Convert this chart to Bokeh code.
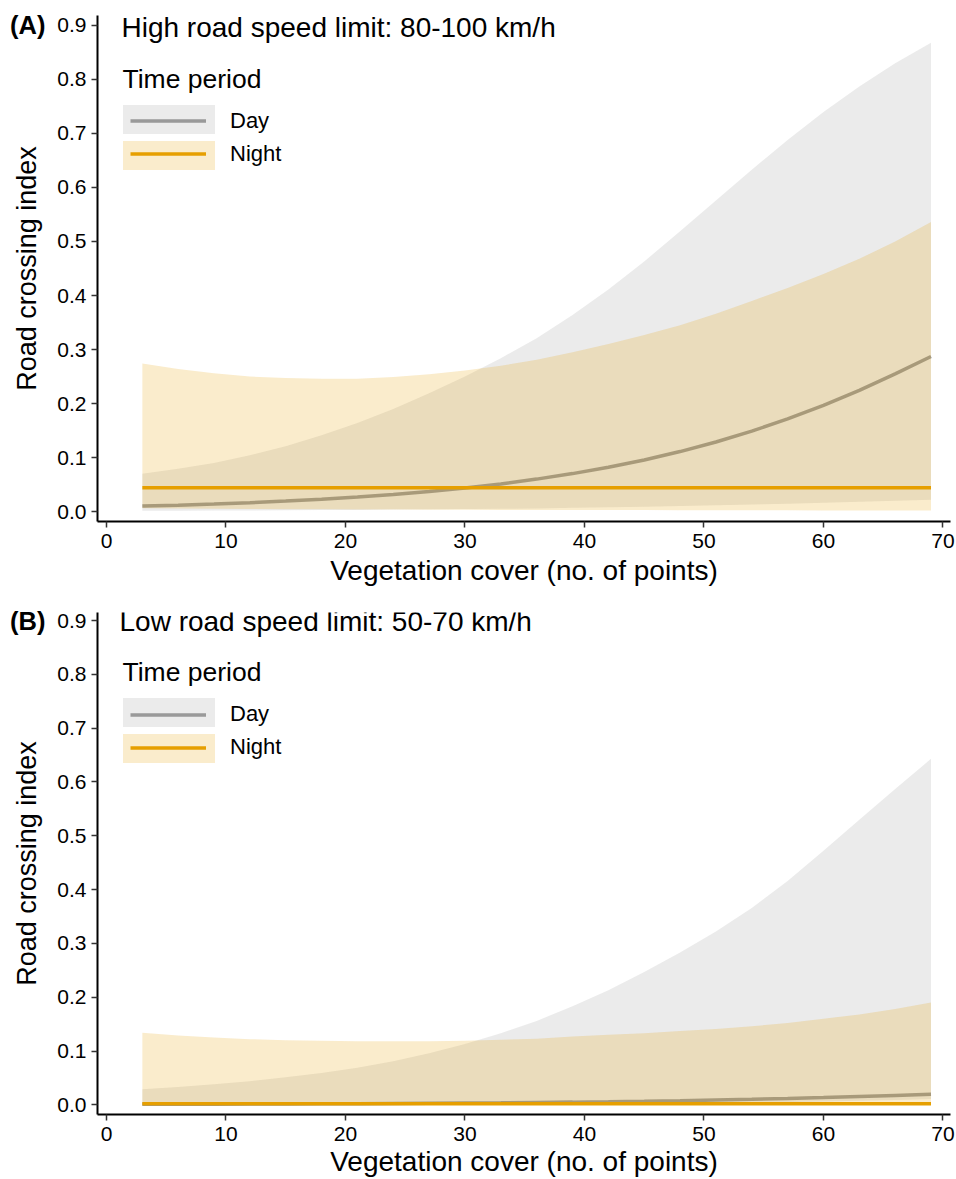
from bokeh.plotting import figure
from bokeh.models import (Range1d, FixedTicker, Label, Legend, LegendItem, NumeralTickFormatter,
                          LinearAxis)
from bokeh.layouts import column
from bokeh.embed import file_html
from bokeh.resources import INLINE

# ---------------- data ----------------
x_cover = [3, 6, 9, 12, 15, 18, 21, 24, 27, 30, 33, 36, 39, 42, 45, 48, 51, 54, 57, 60, 63, 66, 69]

# Panel A: high road speed limit (80-100 km/h)
a_day_fit = [0.0100, 0.0118, 0.0139, 0.0164, 0.0193, 0.0228, 0.0268, 0.0315, 0.0371, 0.0436, 0.0511, 0.0600,
             0.0702, 0.0820, 0.0955, 0.1110, 0.1288, 0.1488, 0.1714, 0.1965, 0.2244, 0.2550, 0.2870]
a_day_lo = [0.0013, 0.0015, 0.0017, 0.0020, 0.0023, 0.0027, 0.0030, 0.0035, 0.0040, 0.0045, 0.0050, 0.0058,
            0.0068, 0.0078, 0.0090, 0.0103, 0.0117, 0.0130, 0.0145, 0.0160, 0.0180, 0.0198, 0.0220]
a_day_hi = [0.070, 0.079, 0.090, 0.104, 0.121, 0.141, 0.164, 0.190, 0.219, 0.250, 0.284, 0.321,
            0.364, 0.411, 0.463, 0.519, 0.576, 0.633, 0.688, 0.740, 0.787, 0.830, 0.868]
a_night_fit = [0.044, 0.044, 0.044, 0.044, 0.044, 0.044, 0.044, 0.044, 0.044, 0.044, 0.044, 0.044,
               0.044, 0.044, 0.044, 0.044, 0.044, 0.044, 0.044, 0.044, 0.044, 0.044, 0.044]
a_night_lo = [0.0060, 0.0055, 0.0050, 0.0047, 0.0044, 0.0041, 0.0038, 0.0036, 0.0034, 0.0032, 0.0030, 0.0029,
              0.0028, 0.0027, 0.0026, 0.0025, 0.0024, 0.0023, 0.0022, 0.0021, 0.0021, 0.0020, 0.0020]
a_night_hi = [0.274, 0.264, 0.256, 0.250, 0.247, 0.246, 0.246, 0.249, 0.254, 0.261, 0.270, 0.281,
              0.295, 0.310, 0.327, 0.345, 0.366, 0.390, 0.414, 0.440, 0.468, 0.500, 0.536]

# Panel B: low road speed limit (50-70 km/h)
b_day_fit = [0.0009, 0.0010, 0.0012, 0.0014, 0.0016, 0.0019, 0.0022, 0.0025, 0.0029, 0.0033, 0.0038, 0.0044,
             0.0050, 0.0058, 0.0067, 0.0077, 0.0089, 0.0102, 0.0117, 0.0135, 0.0155, 0.0175, 0.0195]
b_day_lo = [0.0002, 0.0002, 0.0003, 0.0003, 0.0004, 0.0004, 0.0005, 0.0005, 0.0006, 0.0007, 0.0008, 0.0009,
            0.0010, 0.0012, 0.0015, 0.0020, 0.0030, 0.0040, 0.0050, 0.0060, 0.0075, 0.0090, 0.0110]
b_day_hi = [0.029, 0.033, 0.038, 0.044, 0.051, 0.059, 0.069, 0.081, 0.096, 0.113, 0.133, 0.156,
            0.183, 0.213, 0.247, 0.283, 0.322, 0.366, 0.416, 0.472, 0.530, 0.587, 0.643]
b_night_fit = [0.0022, 0.0022, 0.0022, 0.0022, 0.0022, 0.0022, 0.0022, 0.0022, 0.0022, 0.0022, 0.0022, 0.0022,
               0.0022, 0.0022, 0.0022, 0.0022, 0.0022, 0.0022, 0.0022, 0.0022, 0.0022, 0.0022, 0.0022]
b_night_lo = [0.0003, 0.0003, 0.0003, 0.0003, 0.0003, 0.0003, 0.0003, 0.0003, 0.0003, 0.0003, 0.0003, 0.0003,
              0.0003, 0.0003, 0.0003, 0.0003, 0.0003, 0.0003, 0.0003, 0.0003, 0.0003, 0.0003, 0.0003]
b_night_hi = [0.134, 0.129, 0.125, 0.122, 0.120, 0.119, 0.118, 0.118, 0.118, 0.119, 0.121, 0.123,
              0.127, 0.130, 0.133, 0.137, 0.141, 0.146, 0.152, 0.160, 0.168, 0.178, 0.190]

x_ticks = [0, 10, 20, 30, 40, 50, 60, 70]
y_ticks = [0.0, 0.1, 0.2, 0.3, 0.4, 0.5, 0.6, 0.7, 0.8, 0.9]
series_labels = ["Day", "Night"]
legend_title = "Time period"
x_title = "Vegetation cover (no. of points)"
y_title = "Road crossing index"

# ---------------- styling ----------------
FONT = "Liberation Sans"
DAY_COL = "#999999"
NIGHT_COL = "#E69F00"
BAND_ALPHA = 0.2
LW = 3.5
W = 956


def make_panel(tag, title, day_fit, day_lo, day_hi, night_fit, night_lo, night_hi,
               top_border, frame_h, bottom_border, y_rng, off):
    H = top_border + frame_h + bottom_border
    p = figure(width=W, height=H, x_range=Range1d(-0.753, 70.63), y_range=Range1d(*y_rng),
               output_backend="svg", toolbar_location=None,
               min_border_left=97, min_border_right=6,
               min_border_top=top_border, min_border_bottom=bottom_border)
    p.outline_line_color = None
    p.grid.visible = False
    p.background_fill_color = "white"
    p.border_fill_color = "white"

    day_band = p.varea(x=x_cover, y1=day_lo, y2=day_hi, fill_color=DAY_COL, fill_alpha=BAND_ALPHA)
    day_line = p.line(x=x_cover, y=day_fit, line_color=DAY_COL, line_width=LW)
    night_band = p.varea(x=x_cover, y1=night_lo, y2=night_hi, fill_color=NIGHT_COL, fill_alpha=BAND_ALPHA)
    night_line = p.line(x=x_cover, y=night_fit, line_color=NIGHT_COL, line_width=LW)

    p.xaxis.ticker = FixedTicker(ticks=x_ticks)
    p.yaxis.ticker = FixedTicker(ticks=y_ticks)
    p.yaxis.formatter = NumeralTickFormatter(format="0.0")
    p.xaxis.axis_label = x_title
    for ax in (p.xaxis, p.yaxis):
        ax.axis_line_color = "black"
        ax.axis_line_width = 2
        ax.major_tick_line_color = "#333333"
        ax.major_tick_line_width = 1.5
        ax.major_tick_out = 6
        ax.major_tick_in = 0
        ax.minor_tick_out = 0
        ax.minor_tick_in = 0
        ax.major_label_text_font = FONT
        ax.major_label_text_font_size = "21px"
        ax.major_label_text_color = "black"
        ax.axis_label_text_font = FONT
        ax.axis_label_text_font_style = "normal"
        ax.axis_label_text_color = "black"
    p.xaxis.axis_label_text_font_size = "28px"
    p.xaxis.major_label_standoff = 6
    p.xaxis.axis_label_standoff = off["xlab_standoff"]
    p.yaxis.major_label_standoff = 5

    # outer left axis: carries the panel tag "(A)/(B)" at the 0.9 level and the y title
    tag_axis = LinearAxis(ticker=FixedTicker(ticks=[0.9]), major_label_overrides={0.9: tag},
                          axis_line_color=None, major_tick_line_color=None,
                          major_tick_out=0, major_tick_in=0, minor_tick_out=0, minor_tick_in=0,
                          major_label_standoff=9,
                          major_label_text_font=FONT, major_label_text_font_size="25.5px",
                          major_label_text_font_style="bold", major_label_text_color="black",
                          axis_label=y_title, axis_label_text_font=FONT,
                          axis_label_text_font_size="27px", axis_label_text_font_style="normal",
                          axis_label_text_color="black", axis_label_standoff=-35)
    p.add_layout(tag_axis, "left")

    # legend keys: shaded boxes only (area legend glyphs are inset 10% by Bokeh, so enlarge)
    band_h = 36
    band_leg_h = band_h * 2 - 3
    band_leg = Legend(items=[LegendItem(label="", renderers=[day_band]),
                             LegendItem(label="", renderers=[night_band])],
                      location=(13.5, frame_h - off["band_top"] - band_leg_h),
                      glyph_width=115, glyph_height=band_h, spacing=-3,
                      padding=0, margin=0, label_standoff=0, label_width=0,
                      label_text_font=FONT, label_text_font_size="22px",
                      border_line_alpha=0, background_fill_alpha=0)
    # legend lines + labels
    line_leg_h = 29 * 2 + 4
    line_leg = Legend(items=[LegendItem(label=series_labels[0], renderers=[day_line]),
                             LegendItem(label=series_labels[1], renderers=[night_line])],
                      location=(33, frame_h - off["line_top"] - line_leg_h),
                      glyph_width=76, glyph_height=29, spacing=4,
                      padding=0, margin=0, label_standoff=24,
                      label_text_font=FONT, label_text_font_size="22px", label_text_color="black",
                      border_line_alpha=0, background_fill_alpha=0)
    p.add_layout(band_leg)
    p.add_layout(line_leg)

    p.add_layout(Label(x=off["title_x"], y=frame_h - off["title"], x_units="screen", y_units="screen",
                       text=title, text_font=FONT, text_font_size="28px",
                       text_baseline="alphabetic", text_align="left", text_color="black"))
    p.add_layout(Label(x=25, y=frame_h - off["leg_title"], x_units="screen", y_units="screen",
                       text=legend_title, text_font=FONT, text_font_size="26.5px",
                       text_baseline="alphabetic", text_align="left", text_color="black"))
    return p


pa = make_panel("(A)", "High road speed limit: 80-100 km/h",
                a_day_fit, a_day_lo, a_day_hi, a_night_fit, a_night_lo, a_night_hi,
                top_border=15, frame_h=506, bottom_border=69, y_rng=(-0.0185, 0.9185),
                off={"title": 12, "title_x": 24, "leg_title": 63.3, "band_top": 88.5, "line_top": 91,
                     "xlab_standoff": 4})
pb = make_panel("(B)", "Low road speed limit: 50-70 km/h",
                b_day_fit, b_day_lo, b_day_hi, b_night_fit, b_night_lo, b_night_hi,
                top_border=22, frame_h=502, bottom_border=65, y_rng=(-0.018, 0.915),
                off={"title": 8.5, "title_x": 22, "leg_title": 59.5, "band_top": 85, "line_top": 87.5,
                     "xlab_standoff": 2})

layout = column(pa, pb, spacing=0)
open("out.html", "w").write(file_html(layout, INLINE))
